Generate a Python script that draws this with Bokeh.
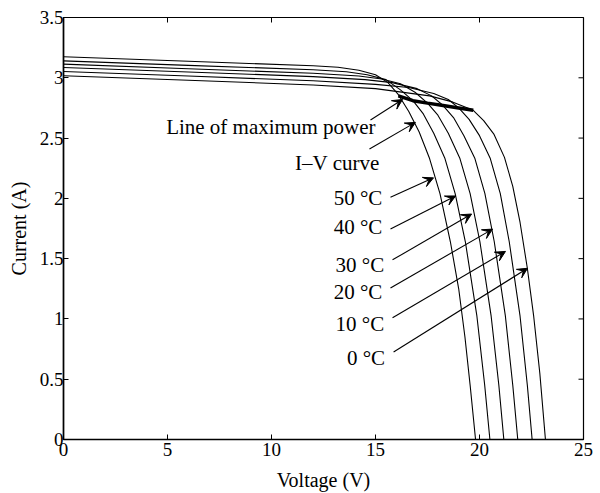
from bokeh.plotting import figure
from bokeh.models import Range1d, FixedTicker, Arrow, VeeHead, ColumnDataSource
from bokeh.core.properties import value
from bokeh.embed import file_html
from bokeh.resources import INLINE

# ---- data ----
temps = ["50 °C", "40 °C", "30 °C", "20 °C", "10 °C", "0 °C"]

v_50 = [0, 6, 12, 13.2, 14.2, 15, 15.6, 16.1, 16.6, 17.1, 17.6, 18.1, 18.6, 19.0, 19.3, 19.55, 19.81]
i_50 = [3.175, 3.137, 3.10, 3.088, 3.063, 3.025, 2.96, 2.86, 2.72, 2.55, 2.33, 2.04, 1.64, 1.25, 0.85, 0.45, 0]

v_40 = [0, 6, 12, 13.6, 14.6, 15.5, 16.2, 16.8, 17.3, 17.8, 18.34, 18.83, 19.32, 19.87, 20.25, 20.5]
i_40 = [3.14, 3.103, 3.067, 3.05, 3.025, 2.985, 2.90, 2.81, 2.70, 2.54, 2.33, 2.04, 1.64, 1.03, 0.45, 0]

v_30 = [0, 6, 12, 14.2, 15.3, 16.2, 16.9, 17.5, 18.0, 18.5, 19.06, 19.55, 20.02, 20.555, 20.93, 21.17]
i_30 = [3.113, 3.075, 3.037, 3.015, 2.99, 2.95, 2.88, 2.79, 2.69, 2.54, 2.33, 2.04, 1.64, 1.03, 0.45, 0]

v_20 = [0, 6, 12, 14.5, 15.8, 17.0, 17.7, 18.25, 18.75, 19.25, 19.78, 20.26, 20.71, 21.24, 21.60, 21.84]
i_20 = [3.085, 3.048, 3.01, 2.985, 2.96, 2.91, 2.85, 2.77, 2.67, 2.52, 2.33, 2.04, 1.64, 1.03, 0.45, 0]

v_10 = [0, 6, 12, 15, 16.6, 17.8, 18.5, 19.0, 19.5, 20.0, 20.52, 21.0, 21.43, 21.945, 22.30, 22.53]
i_10 = [3.052, 3.015, 2.975, 2.945, 2.92, 2.87, 2.82, 2.75, 2.655, 2.52, 2.33, 2.04, 1.64, 1.03, 0.45, 0]

v_0 = [0, 6, 12, 15, 17.6, 18.7, 19.7, 20.2, 20.7, 21.2, 21.6, 21.95, 22.3, 22.6, 22.9, 23.17]
i_0 = [3.017, 2.98, 2.94, 2.91, 2.85, 2.80, 2.73, 2.645, 2.53, 2.34, 2.10, 1.80, 1.42, 1.03, 0.55, 0]

mpp_v = [16.1, 16.8, 17.5, 18.25, 19.0, 19.7]
mpp_i = [2.85, 2.81, 2.79, 2.77, 2.75, 2.73]

ann_text = ["Line of maximum power", "I\u2013V curve", "50 °C", "40 °C", "30 °C", "20 °C", "10 °C", "0 °C"]
ann_x = [15.0, 15.2, 15.33, 15.33, 15.42, 15.33, 15.42, 15.46]
ann_y = [2.59, 2.29, 2.0, 1.76, 1.45, 1.22, 0.96, 0.68]

arr_x0 = [14.76, 14.71, 15.72, 15.72, 15.82, 15.72, 15.82, 15.87]
arr_y0 = [2.65, 2.41, 2.01, 1.745, 1.49, 1.256, 1.01, 0.726]
arr_x1 = [16.30, 16.92, 17.79, 18.85, 19.62, 20.63, 21.25, 22.31]
arr_y1 = [2.82, 2.63, 2.17, 2.02, 1.87, 1.745, 1.56, 1.42]

x_ticks = [0, 5, 10, 15, 20, 25]
y_ticks = [0, 0.5, 1, 1.5, 2, 2.5, 3, 3.5]
y_tick_labels = ["0", "0.5", "1", "1.5", "2", "2.5", "3", "3.5"]

FONT = "Liberation Serif"

p = figure(width=600, height=493, x_range=Range1d(0, 25), y_range=Range1d(0, 3.5),
           output_backend="svg", toolbar_location=None,
           min_border_left=63, min_border_right=17, min_border_top=17, min_border_bottom=47,
           x_axis_label="Voltage (V)", y_axis_label="Current (A)")
p.grid.visible = False
p.outline_line_color = "black"
p.outline_line_width = 1.2
p.background_fill_color = "white"
p.border_fill_color = "white"

for ax in [p.xaxis[0], p.yaxis[0]]:
    ax.major_tick_in = 5
    ax.major_tick_out = 0
    ax.minor_tick_in = 0
    ax.minor_tick_out = 0
    ax.axis_line_color = "black"
    ax.axis_line_width = 1.6
    ax.major_tick_line_color = "black"
    ax.major_label_text_font = FONT
    ax.major_label_text_font_size = "19px"
    ax.major_label_text_color = "black"
    ax.axis_label_text_font = FONT
    ax.axis_label_text_font_size = "20px"
    ax.axis_label_text_font_style = "normal"
    ax.axis_label_text_color = "black"

p.xaxis[0].major_label_standoff = 3
p.xaxis[0].axis_label_standoff = 10
p.yaxis[0].major_label_standoff = 0
p.yaxis[0].axis_label_standoff = 7

p.xaxis[0].ticker = FixedTicker(ticks=x_ticks)
p.yaxis[0].ticker = FixedTicker(ticks=y_ticks)
p.yaxis[0].major_label_overrides = {t: l for t, l in zip(y_ticks, y_tick_labels)}

# mirrored inward ticks on the top and right frame edges
p.ray(x=x_ticks, y=[3.5] * len(x_ticks), length=5, length_units="screen",
      angle=-90, angle_units="deg", line_color="black", line_width=1)
p.ray(x=[25] * len(y_ticks), y=y_ticks, length=5, length_units="screen",
      angle=180, angle_units="deg", line_color="black", line_width=1)

curves = [(v_50, i_50), (v_40, i_40), (v_30, i_30), (v_20, i_20), (v_10, i_10), (v_0, i_0)]
for v, i in curves:
    p.line(v, i, line_color="black", line_width=1.1)

p.line(mpp_v, mpp_i, line_color="black", line_width=3.5)

src = ColumnDataSource(dict(x0=arr_x0, y0=arr_y0, x1=arr_x1, y1=arr_y1))
p.add_layout(Arrow(end=VeeHead(size=10, fill_color="black", line_color="black", line_width=1),
                   x_start="x0", y_start="y0", x_end="x1", y_end="y1", source=src,
                   line_color="black", line_width=1.1))

p.text(x=ann_x, y=ann_y, text=ann_text, text_align="right", text_baseline="middle",
       text_font=value(FONT), text_font_size="21px", text_color="black")

open("out.html", "w").write(file_html(p, INLINE))
